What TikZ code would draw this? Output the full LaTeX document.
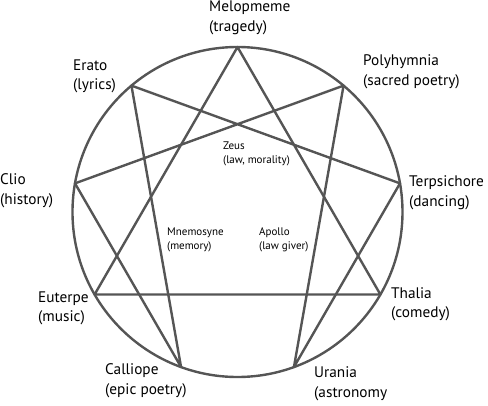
\documentclass[tikz,border=0pt]{standalone}
\usepackage{fontspec}
\setmainfont{PT Sans}
\definecolor{lineGray}{RGB}{85, 85, 85}
\usepackage{tikz}

\begin{document}
\begin{tikzpicture}[x=1pt, y=1pt,
    muse/.style={anchor=west, align=left, inner sep=0pt, font=\fontsize{15.3}{19.5}\selectfont},
    god/.style={anchor=west, align=left, inner sep=0pt, font=\fontsize{11}{14.5}\selectfont}]
        \useasboundingbox (-237.5,-193) rectangle (250.5,212);
        % the circle and its nine points
        \draw[line width=2.4pt, lineGray] (0,0) circle (165);
        \coordinate (melopmeme)   at (90:165);
        \coordinate (polyhymnia)  at (50:165);
        \coordinate (terpsichore) at (10:165);
        \coordinate (thalia)      at (-30:165);
        \coordinate (urania)      at (-70:165);
        \coordinate (calliope)    at (-110:165);
        \coordinate (euterpe)     at (-150:165);
        \coordinate (clio)        at (170:165);
        \coordinate (erato)       at (130:165);
        % triangle and hexad
        \draw[line width=2.4pt, lineGray, line join=round] (melopmeme) -- (thalia) -- (euterpe) -- cycle;
        \draw[line width=2.4pt, lineGray, line join=round] (polyhymnia) -- (urania) -- (terpsichore) -- (erato) -- (calliope) -- (clio) -- cycle;
        % muses
        \node[muse] (lMelopmeme)   at (-28.5,194)   {Melopmeme\\(tragedy)};
        \node[muse] (lErato)       at (-164.5,135.5) {Erato\\(lyrics)};
        \node[muse] (lPolyhymnia)  at (125.5,140)   {Polyhymnia\\(sacred poetry)};
        \node[muse] (lClio)        at (-237.5,21.5) {Clio\\(history)};
        \node[muse] (lTerpsichore) at (171.5,19)    {Terpsichore\\(dancing)};
        \node[muse] (lEuterpe)     at (-199.5,-96.5) {Euterpe\\(music)};
        \node[muse] (lThalia)      at (153.5,-92.5) {Thalia\\(comedy)};
        \node[muse] (lCalliope)    at (-132.5,-168.5) {Calliope\\(epic poetry)};
        \node[muse] (lUrania)      at (76.5,-172)   {Urania\\(astronomy};
        % gods
        \node[god] (zeus)      at (-14.5,58) {Zeus\\(law, morality)};
        \node[god] (mnemosyne) at (-70.5,-28) {Mnemosyne\\(memory)};
        \node[god] (apollo)    at (21.5,-28)  {Apollo\\(law giver)};
      \end{tikzpicture}
\end{document}
